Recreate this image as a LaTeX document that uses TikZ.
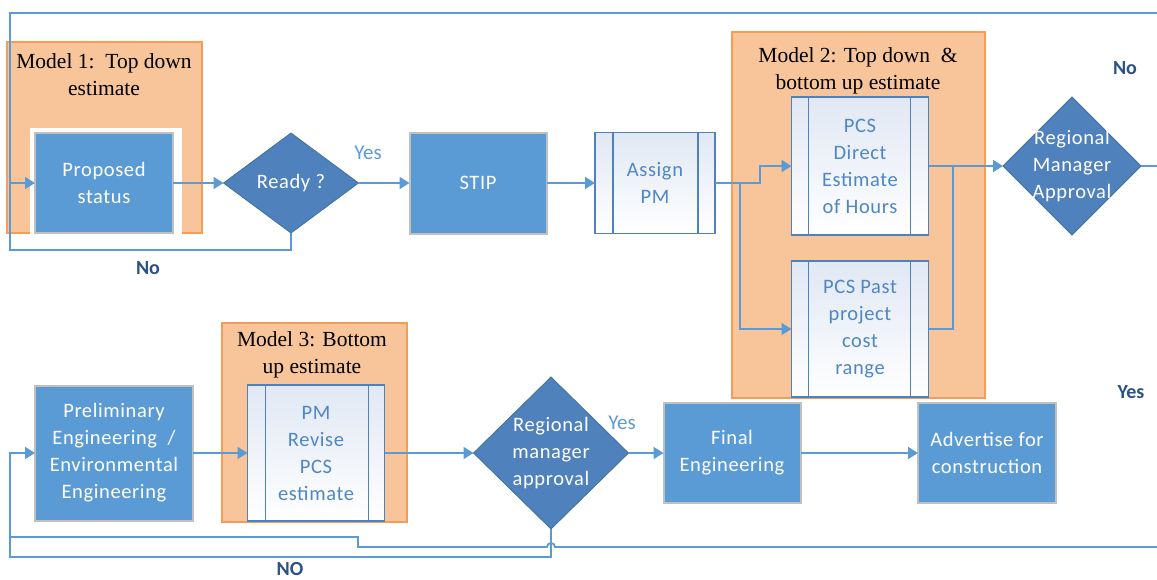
\documentclass[tikz,border=0pt]{standalone}
\usepackage{fontspec}
\setmainfont{Liberation Serif}
\newfontfamily\boxfont{Carlito}[LetterSpace=3]
\newfontfamily\lblfont{Carlito}
\usetikzlibrary{shapes.geometric,arrows.meta,calc}

\definecolor{boxblue}{HTML}{5B9BD5}
\definecolor{boxrim}{HTML}{C0C0C0}
\definecolor{diablue}{HTML}{4F81BD}
\definecolor{diaedge}{HTML}{41719C}
\definecolor{linkblue}{HTML}{5B9BD5}
\definecolor{peach}{HTML}{F8C49A}
\definecolor{peachedge}{HTML}{F59D56}
\definecolor{procedge}{HTML}{4F81BD}
\definecolor{proctext}{HTML}{4F86C6}
\definecolor{procfill}{HTML}{E0E8F4}
\definecolor{navy}{HTML}{2A5286}

% vertical bars of a predefined-process box, #2 and #3 in from each side
\newcommand\procbars[3]{%
  \draw[procline] ($(#1.north west)+(#2,0)$) -- ($(#1.south west)+(#2,0)$);
  \draw[procline] ($(#1.north east)-(#3,0)$) -- ($(#1.south east)-(#3,0)$);}

\begin{document}
\begin{tikzpicture}[x=1pt,y=-1pt,
  font=\boxfont\fontsize{20.5}{27}\selectfont,
  stepbox/.style={rectangle, fill=boxblue, draw=boxrim, line width=2pt,
    text=white, align=center, inner sep=0pt, outer sep=0pt},
  proc/.style={rectangle, draw=procedge, line width=1.6pt, top color=procfill,
    bottom color=white, text=proctext, align=center, inner sep=0pt, outer sep=0pt},
  procline/.style={draw=procedge, line width=1.6pt},
  dia/.style={diamond, fill=diablue, draw=diaedge, line width=0.8pt,
    inner sep=0pt, outer sep=0pt},
  diatext/.style={text=white, align=center},
  model/.style={rectangle, fill=peach, draw=peachedge, line width=1.5pt,
    anchor=north west, inner sep=0pt, outer sep=0pt},
  modeltitle/.style={font=\rmfamily\fontsize{21.5}{27}\selectfont, align=center, text=black},
  link/.style={draw=linkblue, line width=1.8pt},
  arrow/.style={link, -{Triangle[length=10pt,width=12pt]}},
  yeslbl/.style={text=linkblue, font=\lblfont\fontsize{21}{24}\selectfont},
  darklbl/.style={text=navy, font=\lblfont\bfseries\fontsize{20}{24}\selectfont}]

\useasboundingbox (0,0) rectangle (1157,579);

% estimate model panels
\node[model, minimum width=195pt, minimum height=191pt] (m1) at (7,42) {};
\node[model, minimum width=253pt, minimum height=366pt] (m2) at (732,32) {};
\node[model, minimum width=185pt, minimum height=199pt] (m3) at (222,323) {};
\node[modeltitle] (m1t) at (104,75) {Model 1:\ \ Top down\\estimate};
\node[modeltitle] (m2t) at (858,71) {Model 2: Top down\ \ \&\\bottom up estimate};
\node[modeltitle] (m3t) at (312,355) {Model 3: Bottom\\up estimate};

% white frame around the first step
\fill[white] (30,128) rectangle (182,237);

% upper row
\node[stepbox, minimum width=138pt, minimum height=100pt] (ps) at (104,183) {Proposed\\status};
\node[dia, minimum width=135pt, minimum height=100pt] (ready) at (291,183) {};
\node[diatext] (readyt) at (ready) {Ready ?};
\node[stepbox, minimum width=137pt, minimum height=101pt] (stip) at (478,183) {STIP};
\node[proc, minimum width=120pt, minimum height=101pt] (apm) at (655,183) {Assign\\PM};
\procbars{apm}{18}{17}
\node[proc, minimum width=137pt, minimum height=138pt] (pcsd) at (860,166) {PCS\\Direct\\Estimate\\of Hours};
\procbars{pcsd}{17}{18}
\node[proc, minimum width=137pt, minimum height=136pt] (pcsp) at (860,329) {PCS Past\\project\\cost\\range};
\procbars{pcsp}{17}{18}
\node[dia, minimum width=138pt, minimum height=138pt] (rma) at (1072,166) {};
\node[diatext] (rmat) at (rma) {Regional\\Manager\\Approval};

% lower row
\node[stepbox, minimum width=158pt, minimum height=135pt] (prelim) at (114,453)
  {Preliminary\\Engineering\ \ /\\Environmental\\Engineering};
\node[proc, minimum width=137pt, minimum height=136pt] (pmr) at (316,453) {PM\\Revise\\PCS\\estimate};
\procbars{pmr}{18}{16}
\node[dia, minimum width=155pt, minimum height=152pt] (rma2) at (551,453) {};
\node[diatext] (rma2t) at (rma2) {Regional\\manager\\approval};
\node[stepbox, minimum width=137pt, minimum height=100pt] (fe) at (732,453) {Final\\Engineering};
\node[stepbox, minimum width=138pt, minimum height=100pt] (adv) at (987,453) {Advertise for\\construction};

% routing points
\coordinate (topR) at (1157,13);
\coordinate (topL) at (10,13);
\coordinate (noL) at (10,250);
\coordinate (split) at (740,183);
\coordinate (jog) at (760,183);
\coordinate (merge) at (953,166);
\coordinate (exitR) at (1157,166);
\coordinate (exitB) at (1157,547);
\coordinate (noBL) at (10,557);

% upper connectors
\draw[arrow] (ps.east) -- (ready.west);
\draw[arrow] (ready.east) -- (stip.west);
\draw[arrow] (stip.east) -- (apm.west);
\draw[arrow] (apm.east) -- (jog) |- (pcsd.west);
\draw[arrow] (split) |- (pcsp.west);
\draw[arrow] (pcsd.east) -- (rma.west);
\draw[link] (pcsp.east) -| (merge);
\draw[link] (rma.east) -- (exitR);
\draw[arrow] (topR) -- (topL) |- (ps.west);
\draw[link] (ready.south) |- (noL) -- (topL |- ps.west);

% lower connectors
\draw[arrow] (prelim.east) -- (pmr.west);
\draw[arrow] (pmr.east) -- (rma2.west);
\draw[arrow] (rma2.east) -- (fe.west);
\draw[arrow] (fe.east) -- (adv.west);
\draw[arrow] (rma2.south) |- (noBL) |- (prelim.west);
\draw[link] (exitB) -- (555,547) arc[start angle=0, end angle=-180, radius=4]
  -- (358,547) -- (358,537) -- (10,537);

% branch labels
\node[yeslbl] (yes1) at (368,153) {Yes};
\node[yeslbl] (yes2) at (622,423) {Yes};
\node[darklbl] (no1) at (148,268) {No};
\node[darklbl] (no2) at (1125,68) {No};
\node[darklbl] (yes3) at (1131,392) {Yes};
\node[darklbl, inner sep=1pt] (no3) at (290,569) {NO};
\end{tikzpicture}
\end{document}
